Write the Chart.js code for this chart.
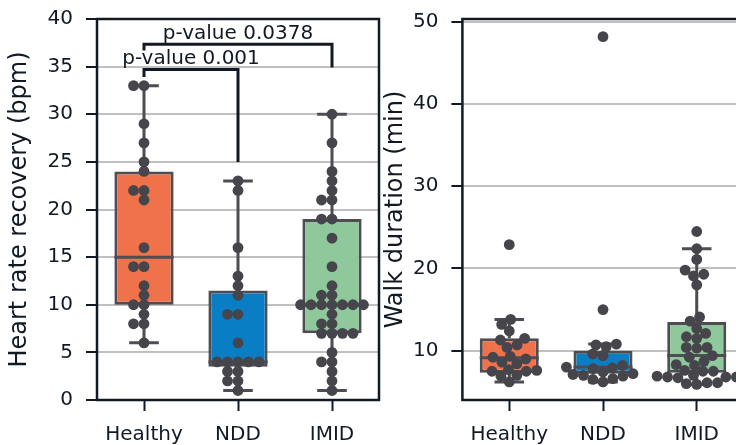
<!DOCTYPE html>
<html>
<head>
<meta charset="utf-8">
<script src="https://cdn.jsdelivr.net/npm/chart.js@4/dist/chart.umd.min.js"></script>
<style>
  html, body { margin: 0; padding: 0; background: #fff; overflow: hidden; }
  #wrap { position: relative; width: 736px; height: 445px; overflow: hidden; }
  #hrr { position: absolute; left: 0; top: 0; width: 385px; height: 445px; }
  #walk { position: absolute; left: 375px; top: 0; width: 400px; height: 445px; }
</style>
</head>
<body>
<div id="wrap">
  <canvas id="hrr" width="385" height="445"></canvas>
  <canvas id="walk" width="400" height="445"></canvas>
</div>
<script>
// ---- data ----
const groups = ['Healthy', 'NDD', 'IMID'];
const boxColors = ['#ef724b', '#0a7ec5', '#8ec89b'];

// heart rate recovery (bpm), one value per subject
const hrrHealthy = [33, 33, 29, 27, 25, 24, 22, 22, 21, 16, 14, 14, 12, 11, 10, 10, 9, 8, 8, 6];
const hrrNDD = [23, 22, 16, 13, 12, 11, 9, 9, 6, 4, 4, 4, 4, 4, 3, 3, 2, 2, 1];
const hrrIMID = [30, 27, 24, 23, 22, 21, 21, 19, 19, 17, 14, 12, 11, 11, 10, 10, 10, 10, 10, 10, 10,
                 9, 8, 8, 7, 7, 7, 7, 5, 4, 4, 3, 2, 1];
// box statistics per group: lower whisker, Q1, median, Q3, upper whisker
const hrrLo = [6, 1, 1];
const hrrQ1 = [10, 3.5, 7];
const hrrMed = [15, 4, 10];
const hrrQ3 = [24, 11.5, 19];
const hrrHi = [33, 23, 30];
const hrrTicks = [0, 5, 10, 15, 20, 25, 30, 35, 40];

// significance brackets (group index pairs)
const pairs = [[0, 1], [0, 2]];
const pLabels = ['p-value 0.001', 'p-value 0.0378'];
const pTop = [34.7, 37.35];
const pLeftEnd = [33.9, 36.7];
const pRightEnd = [25.0, 34.9];

// walk duration (min)
const walkHealthy = [22.9, 13.8, 13.2, 12.4, 11.5, 11.3, 10.7, 10.4, 9.3, 9.2, 9.0, 8.6, 8.4,
                     7.7, 7.6, 7.5, 7.5, 7.0, 6.9, 6.2];
const walkNDD = [48.2, 15.0, 10.8, 10.7, 10.5, 9.6, 9.4, 8.2, 8.0, 7.9, 7.8, 7.4, 7.2, 7.1, 7.0,
                 6.9, 6.6, 6.5, 6.2];
const walkIMID = [24.5, 22.4, 21.1, 19.8, 19.3, 19.1, 18.0, 14.1, 13.6, 12.7, 12.1, 11.7, 11.5,
                  10.4, 10.4, 10.3, 9.4, 9.2, 8.7, 8.3, 8.2, 7.6, 7.6, 7.5, 7.5, 7.0, 6.9, 6.8,
                  6.8, 6.8, 6.7, 6.1, 6.1, 6.0, 5.9];
const walkLo = [6.2, 6.2, 5.9];
const walkQ1 = [7.3, 7.2, 7.3];
const walkMed = [9.15, 8.0, 9.4];
const walkQ3 = [11.5, 10.0, 13.5];
const walkHi = [13.8, 10.8, 22.4];
const walkTicks = [10, 20, 30, 40, 50];

// ---- styles ----
const FONT = 'DejaVu Sans';
const INK = '#111a24';
const EDGE = '#4d4d53';
const DOT = '#45454b';
const GRID = '#c0c0c0';
const DOT_R = 5.4;       // drawn marker radius
const SWARM_R = 4.76;    // radius used for the non-overlap layout
const SWARM_GAP = 1.1;   // sideways spacing factor between touching points

// beeswarm layout of the points inside each category (pixel space)
const swarmPlugin = {
  id: 'swarm',
  afterDatasetsUpdate(chart) {
    chart.data.datasets.forEach((ds, di) => {
      if (ds.type !== 'scatter') return;
      const meta = chart.getDatasetMeta(di);
      const r = SWARM_R;
      const byCat = {};
      meta.data.forEach((el, i) => {
        const k = Math.round(meta._parsed[i].x);
        (byCat[k] = byCat[k] || []).push({ el, y: el.y, mid: el.x });
      });
      Object.values(byCat).forEach(list => {
        list.sort((a, b) => b.y - a.y);
        const placed = [];
        list.forEach(p => {
          const neigh = [];
          for (let j = placed.length - 1; j >= 0; j--) {
            if (placed[j].y - p.y < 2 * r) neigh.push(placed[j]); else break;
          }
          const cands = [p.mid];
          let leftFirst = true;
          neigh.forEach(n => {
            const dy = p.y - n.y;
            const dx = Math.sqrt(Math.max(4 * r * r - dy * dy, 0)) * SWARM_GAP;
            if (leftFirst) cands.push(n.x - dx, n.x + dx); else cands.push(n.x + dx, n.x - dx);
            leftFirst = !leftFirst;
          });
          const order = cands.map((x, i) => ({ x, i })).sort((a, b) => {
            const d = Math.abs(a.x - p.mid) - Math.abs(b.x - p.mid);
            return Math.abs(d) < 1e-9 ? a.i - b.i : d;
          });
          let chosen = order[order.length - 1].x;
          for (const c of order) {
            const ok = neigh.every(n => (n.x - c.x) ** 2 + (n.y - p.y) ** 2 >= 4 * r * r - 1e-6);
            if (ok) { chosen = c.x; break; }
          }
          p.x = chosen;
          p.el.x = chosen;
          placed.push(p);
        });
      });
    });
  }
};

// whiskers, caps and median drawn right after the boxes
const boxPlugin = {
  id: 'boxparts',
  afterDatasetDraw(chart, args) {
    const ds = chart.data.datasets[args.index];
    if (!ds.stats) return;
    const ys = chart.scales.y;
    const ctx = chart.ctx;
    const s = ds.stats;
    const py = v => ys.getPixelForValue(v);
    ctx.save();
    ctx.strokeStyle = EDGE;
    ctx.lineWidth = 3;
    ctx.lineCap = 'butt';
    args.meta.data.forEach((bar, i) => {
      const cx = bar.x;
      const half = bar.width / 2;
      const cap = half * 0.5;
      ctx.beginPath();
      ctx.moveTo(cx, py(s.q3[i])); ctx.lineTo(cx, py(s.hi[i]));
      ctx.moveTo(cx, py(s.q1[i])); ctx.lineTo(cx, py(s.lo[i]));
      ctx.moveTo(cx - cap, py(s.hi[i])); ctx.lineTo(cx + cap, py(s.hi[i]));
      ctx.moveTo(cx - cap, py(s.lo[i])); ctx.lineTo(cx + cap, py(s.lo[i]));
      ctx.moveTo(cx - half, py(s.med[i])); ctx.lineTo(cx + half, py(s.med[i]));
      ctx.stroke();
    });
    ctx.restore();
  }
};

// full frame around the plotting area
const framePlugin = {
  id: 'frame',
  afterDraw(chart) {
    const { left, right, top, bottom } = chart.chartArea;
    const ctx = chart.ctx;
    ctx.save();
    ctx.strokeStyle = INK;
    ctx.lineWidth = 2.5;
    ctx.strokeRect(left, top, right - left, bottom - top);
    ctx.restore();
  }
};

// significance brackets with their p-value labels
const bracketPlugin = {
  id: 'brackets',
  afterDatasetsDraw(chart, args, opts) {
    if (!opts || !opts.pairs) return;
    const xs = chart.scales.x, ys = chart.scales.y;
    const ctx = chart.ctx;
    ctx.save();
    ctx.strokeStyle = INK;
    ctx.fillStyle = INK;
    ctx.lineWidth = 3;
    ctx.lineJoin = 'miter';
    ctx.font = '20px "' + FONT + '"';
    ctx.textAlign = 'center';
    ctx.textBaseline = 'alphabetic';
    opts.pairs.forEach(([a, b], k) => {
      const xa = xs.getPixelForValue(a), xb = xs.getPixelForValue(b);
      const yt = ys.getPixelForValue(opts.top[k]);
      ctx.beginPath();
      ctx.moveTo(xa, ys.getPixelForValue(opts.leftEnd[k]));
      ctx.lineTo(xa, yt);
      ctx.lineTo(xb, yt);
      ctx.lineTo(xb, ys.getPixelForValue(opts.rightEnd[k]));
      ctx.stroke();
      ctx.fillText(opts.labels[k], (xa + xb) / 2, yt - 5);
    });
    ctx.restore();
  }
};

function makeChart(canvasId, cfg) {
  const points = [];
  cfg.values.forEach((arr, gi) => arr.forEach(v => points.push({ x: groups[gi], y: v })));
  return new Chart(document.getElementById(canvasId), {
    type: 'bar',
    data: {
      labels: groups,
      datasets: [
        {
          type: 'scatter',
          data: points,
          order: 0,
          pointRadius: DOT_R,
          pointHoverRadius: DOT_R,
          pointBackgroundColor: DOT,
          pointBorderWidth: 0,
          pointBorderColor: DOT
        },
        {
          type: 'bar',
          data: groups.map((g, i) => [cfg.q1[i], cfg.q3[i]]),
          stats: { lo: cfg.lo, q1: cfg.q1, med: cfg.med, q3: cfg.q3, hi: cfg.hi },
          order: 1,
          backgroundColor: boxColors,
          borderColor: EDGE,
          borderWidth: 3,
          borderSkipped: false,
          barPercentage: 0.63,
          categoryPercentage: 1
        }
      ]
    },
    options: {
      responsive: false,
      animation: false,
      events: [],
      layout: { padding: cfg.padding },
      plugins: {
        legend: { display: false },
        tooltip: { enabled: false },
        brackets: cfg.brackets || {}
      },
      scales: {
        x: {
          type: 'category',
          offset: true,
          grid: { display: true, drawOnChartArea: false, offset: false, drawTicks: true,
                  tickLength: 11, tickWidth: 2, tickColor: INK },
          border: { display: false },
          ticks: { color: INK, padding: 12, font: { family: FONT, size: 20 } },
          afterFit: s => { s.height = 45; s.paddingLeft = 0; s.paddingRight = 0; }
        },
        y: {
          type: 'linear',
          min: cfg.min,
          max: cfg.max,
          afterBuildTicks: s => { s.ticks = cfg.ticks.map(v => ({ value: v })); },
          grid: { color: GRID, lineWidth: 2, drawTicks: true, tickLength: 11, tickWidth: 2, tickColor: INK },
          border: { display: false },
          ticks: { color: INK, padding: 13, font: { family: FONT, size: 20 } },
          title: { display: true, text: cfg.title, color: INK,
                   font: { family: FONT, size: 24 }, padding: { top: cfg.titlePad, bottom: 0 } },
          afterFit: s => { s.width = cfg.yWidth; s.paddingTop = 0; s.paddingBottom = 0; }
        }
      }
    },
    plugins: [swarmPlugin, boxPlugin, bracketPlugin, framePlugin]
  });
}

makeChart('hrr', {
  values: [hrrHealthy, hrrNDD, hrrIMID],
  lo: hrrLo, q1: hrrQ1, med: hrrMed, q3: hrrQ3, hi: hrrHi,
  min: 0, max: 40, ticks: hrrTicks,
  title: 'Heart rate recovery (bpm)',
  titlePad: 5,
  yWidth: 97,
  padding: { left: 0, right: 6, top: 19, bottom: 0 },
  brackets: { pairs: pairs, labels: pLabels, top: pTop, leftEnd: pLeftEnd, rightEnd: pRightEnd }
});

makeChart('walk', {
  values: [walkHealthy, walkNDD, walkIMID],
  lo: walkLo, q1: walkQ1, med: walkMed, q3: walkQ3, hi: walkHi,
  min: 4.0, max: 50.35, ticks: walkTicks,
  title: 'Walk duration (min)',
  titlePad: 6.6,
  yWidth: 87.4,
  padding: { left: 0, right: 31.4, top: 19, bottom: 0 }
});
</script>
</body>
</html>
